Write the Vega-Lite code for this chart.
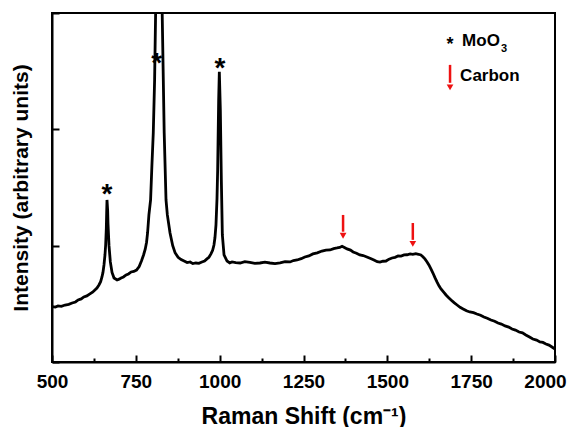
{
  "$schema": "https://vega.github.io/schema/vega-lite/v6.json",
  "autosize": "none",
  "width": 503,
  "height": 349,
  "padding": {"left": 52, "top": 13, "right": 15, "bottom": 65},
  "background": "white",
  "config": {
    "view": {"stroke": "black", "strokeWidth": 2},
    "font": "Liberation Sans"
  },
  "datasets": {
    "spectrum": [
      {"shift": 500, "intensity": 0.477}, {"shift": 510, "intensity": 0.472}, {"shift": 518, "intensity": 0.482}, {"shift": 528, "intensity": 0.479}, {"shift": 539, "intensity": 0.49},
      {"shift": 550, "intensity": 0.495}, {"shift": 560, "intensity": 0.507}, {"shift": 570, "intensity": 0.516}, {"shift": 578, "intensity": 0.533}, {"shift": 587, "intensity": 0.542}, {"shift": 595, "intensity": 0.559},
      {"shift": 604, "intensity": 0.568}, {"shift": 613, "intensity": 0.585}, {"shift": 621, "intensity": 0.6}, {"shift": 628, "intensity": 0.619}, {"shift": 634, "intensity": 0.636}, {"shift": 640, "intensity": 0.662},
      {"shift": 645, "intensity": 0.69}, {"shift": 649, "intensity": 0.731}, {"shift": 652, "intensity": 0.77}, {"shift": 655, "intensity": 0.834}, {"shift": 658, "intensity": 0.92}, {"shift": 660, "intensity": 1.006},
      {"shift": 662, "intensity": 1.15}, {"shift": 663, "intensity": 1.28}, {"shift": 664, "intensity": 1.393}, {"shift": 666, "intensity": 1.3}, {"shift": 667, "intensity": 1.19},
      {"shift": 670, "intensity": 1.0}, {"shift": 674, "intensity": 0.86}, {"shift": 679, "intensity": 0.77},
      {"shift": 685, "intensity": 0.722}, {"shift": 694, "intensity": 0.705}, {"shift": 700, "intensity": 0.712}, {"shift": 706, "intensity": 0.722}, {"shift": 713, "intensity": 0.731},
      {"shift": 721, "intensity": 0.748}, {"shift": 728, "intensity": 0.757}, {"shift": 736, "intensity": 0.774}, {"shift": 744, "intensity": 0.778}, {"shift": 752, "intensity": 0.79},
      {"shift": 760, "intensity": 0.82}, {"shift": 767, "intensity": 0.87}, {"shift": 773, "intensity": 0.92}, {"shift": 778, "intensity": 0.97}, {"shift": 782, "intensity": 1.03},
      {"shift": 785, "intensity": 1.109}, {"shift": 789, "intensity": 1.264}, {"shift": 794, "intensity": 1.393},
      {"shift": 798, "intensity": 1.694}, {"shift": 802, "intensity": 1.969}, {"shift": 806, "intensity": 2.425}, {"shift": 809, "intensity": 3.0},
      {"shift": 819, "intensity": 4.6},
      {"shift": 828.6, "intensity": 3.0}, {"shift": 834.6, "intensity": 1.969}, {"shift": 840, "intensity": 1.393}, {"shift": 844, "intensity": 1.264},
      {"shift": 852, "intensity": 1.109}, {"shift": 860, "intensity": 1.0}, {"shift": 867, "intensity": 0.94}, {"shift": 876, "intensity": 0.9},
      {"shift": 885, "intensity": 0.88}, {"shift": 894, "intensity": 0.868}, {"shift": 903, "intensity": 0.855}, {"shift": 912, "intensity": 0.86}, {"shift": 920, "intensity": 0.846},
      {"shift": 929, "intensity": 0.851}, {"shift": 938, "intensity": 0.848}, {"shift": 947, "intensity": 0.86}, {"shift": 955, "intensity": 0.868}, {"shift": 962, "intensity": 0.886},
      {"shift": 968, "intensity": 0.9}, {"shift": 974, "intensity": 0.929}, {"shift": 979, "intensity": 0.96}, {"shift": 983, "intensity": 1.006}, {"shift": 986, "intensity": 1.07}, {"shift": 989, "intensity": 1.178},
      {"shift": 992, "intensity": 1.4}, {"shift": 994, "intensity": 1.651}, {"shift": 997, "intensity": 2.253}, {"shift": 999, "intensity": 2.494},
      {"shift": 1002, "intensity": 2.167}, {"shift": 1005, "intensity": 1.565}, {"shift": 1008, "intensity": 1.092},
      {"shift": 1013, "intensity": 0.92}, {"shift": 1022, "intensity": 0.868}, {"shift": 1030, "intensity": 0.852}, {"shift": 1037, "intensity": 0.86}, {"shift": 1048, "intensity": 0.855},
      {"shift": 1061, "intensity": 0.851}, {"shift": 1075, "intensity": 0.862}, {"shift": 1090, "intensity": 0.856}, {"shift": 1105, "intensity": 0.848}, {"shift": 1120, "intensity": 0.851},
      {"shift": 1135, "intensity": 0.858}, {"shift": 1150, "intensity": 0.851}, {"shift": 1165, "intensity": 0.846}, {"shift": 1180, "intensity": 0.853}, {"shift": 1195, "intensity": 0.862}, {"shift": 1210, "intensity": 0.86},
      {"shift": 1220, "intensity": 0.872}, {"shift": 1231, "intensity": 0.877}, {"shift": 1243, "intensity": 0.888}, {"shift": 1254, "intensity": 0.903}, {"shift": 1266, "intensity": 0.912}, {"shift": 1278, "intensity": 0.929},
      {"shift": 1291, "intensity": 0.938}, {"shift": 1305, "intensity": 0.954}, {"shift": 1317, "intensity": 0.962}, {"shift": 1329, "intensity": 0.963}, {"shift": 1340, "intensity": 0.975}, {"shift": 1350, "intensity": 0.98},
      {"shift": 1358, "intensity": 0.985}, {"shift": 1365, "intensity": 0.995}, {"shift": 1372, "intensity": 0.985}, {"shift": 1380, "intensity": 0.972}, {"shift": 1390, "intensity": 0.962}, {"shift": 1398, "intensity": 0.946},
      {"shift": 1408, "intensity": 0.935}, {"shift": 1418, "intensity": 0.92}, {"shift": 1428, "intensity": 0.915}, {"shift": 1439, "intensity": 0.903}, {"shift": 1450, "intensity": 0.89}, {"shift": 1460, "intensity": 0.877},
      {"shift": 1470, "intensity": 0.862}, {"shift": 1478, "intensity": 0.858}, {"shift": 1487, "intensity": 0.866}, {"shift": 1496, "intensity": 0.868}, {"shift": 1505, "intensity": 0.884}, {"shift": 1514, "intensity": 0.894},
      {"shift": 1523, "intensity": 0.9}, {"shift": 1532, "intensity": 0.911}, {"shift": 1541, "intensity": 0.91}, {"shift": 1550, "intensity": 0.92}, {"shift": 1559, "intensity": 0.922}, {"shift": 1568, "intensity": 0.929},
      {"shift": 1576, "intensity": 0.925}, {"shift": 1585, "intensity": 0.932}, {"shift": 1593, "intensity": 0.926}, {"shift": 1600, "intensity": 0.92}, {"shift": 1606, "intensity": 0.905}, {"shift": 1612, "intensity": 0.886},
      {"shift": 1618, "intensity": 0.862}, {"shift": 1624, "intensity": 0.834}, {"shift": 1630, "intensity": 0.8}, {"shift": 1636, "intensity": 0.765}, {"shift": 1642, "intensity": 0.725}, {"shift": 1648, "intensity": 0.688},
      {"shift": 1654, "intensity": 0.655}, {"shift": 1660, "intensity": 0.628}, {"shift": 1668, "intensity": 0.6}, {"shift": 1675, "intensity": 0.576}, {"shift": 1683, "intensity": 0.552}, {"shift": 1690, "intensity": 0.533},
      {"shift": 1699, "intensity": 0.51}, {"shift": 1708, "intensity": 0.49}, {"shift": 1717, "intensity": 0.47}, {"shift": 1726, "intensity": 0.456}, {"shift": 1736, "intensity": 0.44}, {"shift": 1746, "intensity": 0.43},
      {"shift": 1757, "intensity": 0.424}, {"shift": 1767, "intensity": 0.413}, {"shift": 1778, "intensity": 0.402}, {"shift": 1788, "intensity": 0.387}, {"shift": 1798, "intensity": 0.376}, {"shift": 1809, "intensity": 0.361},
      {"shift": 1820, "intensity": 0.35}, {"shift": 1830, "intensity": 0.335}, {"shift": 1840, "intensity": 0.326}, {"shift": 1851, "intensity": 0.31}, {"shift": 1862, "intensity": 0.3}, {"shift": 1872, "intensity": 0.284},
      {"shift": 1882, "intensity": 0.274}, {"shift": 1893, "intensity": 0.258}, {"shift": 1903, "intensity": 0.25}, {"shift": 1913, "intensity": 0.232}, {"shift": 1924, "intensity": 0.215}, {"shift": 1934, "intensity": 0.198},
      {"shift": 1945, "intensity": 0.188}, {"shift": 1955, "intensity": 0.172}, {"shift": 1964, "intensity": 0.168}, {"shift": 1973, "intensity": 0.155}, {"shift": 1982, "intensity": 0.145}, {"shift": 1991, "intensity": 0.129},
      {"shift": 2000, "intensity": 0.112}
    ],
    "stars": [
      {"shift": 664, "intensity": 1.5, "kind": "peak", "label": "*"},
      {"shift": 812, "intensity": 2.62, "kind": "peak", "label": "*"},
      {"shift": 1001, "intensity": 2.58, "kind": "peak", "label": "*"},
      {"shift": 1687, "intensity": 2.77, "kind": "legend", "label": "*"}
    ],
    "arrows": [
      {"shift": 1368, "top": 1.264, "bottom": 1.12, "head": 1.085},
      {"shift": 1576, "top": 1.195, "bottom": 1.05, "head": 1.015},
      {"shift": 1687, "top": 2.554, "bottom": 2.4, "head": 2.36}
    ],
    "labels": [
      {"shift": 1723, "intensity": 2.76, "label": "MoO"},
      {"shift": 1717, "intensity": 2.46, "label": "Carbon"}
    ],
    "subs": [
      {"shift": 1839, "intensity": 2.69, "label": "3"}
    ]
  },
  "layer": [
    {
      "data": {"name": "spectrum"},
      "mark": {"type": "line", "color": "black", "strokeWidth": 2.8, "clip": true},
      "encoding": {
        "x": {
          "field": "shift", "type": "quantitative",
          "scale": {"domain": [500, 2000], "nice": false, "zero": false},
          "axis": {
            "values": [500, 625, 750, 875, 1000, 1125, 1250, 1375, 1500, 1625, 1750, 1875, 2000],
            "labelExpr": "datum.value % 250 === 0 ? format(datum.value, 'd') : ''",
            "title": "Raman Shift (cm⁻¹)",
            "titleFont": "Liberation Sans", "titleFontSize": 23, "titleFontWeight": "bold", "titleColor": "black",
            "titlePadding": 14,
            "labelFont": "Liberation Sans", "labelFontSize": 19, "labelFontWeight": "bold", "labelColor": "black",
            "labelPadding": 17, "labelFlush": false,
            "labelOffset": {"condition": {"test": "datum.value === 2000", "value": -10}, "value": 0},
            "tickSize": {"condition": {"test": "datum.value % 250 === 0", "value": -7}, "value": -4},
            "tickWidth": 2, "tickColor": "black",
            "domainColor": "black", "domainWidth": 2, "grid": false
          }
        },
        "y": {
          "field": "intensity", "type": "quantitative",
          "scale": {"domain": [0, 3], "nice": false},
          "axis": {
            "values": [0, 1, 2, 3],
            "labels": false,
            "title": "Intensity (arbitrary units)",
            "titleFont": "Liberation Sans", "titleFontSize": 21, "titleFontWeight": "bold", "titleColor": "black",
            "titlePadding": 20,
            "tickSize": -7, "tickWidth": 2, "tickColor": "black",
            "domainColor": "black", "domainWidth": 2, "grid": false
          }
        }
      }
    },
    {
      "data": {"name": "stars"},
      "transform": [{"filter": "datum.kind === 'peak'"}],
      "mark": {"type": "text", "font": "Liberation Sans", "fontWeight": "bold", "fontSize": 28, "baseline": "middle", "align": "center", "dy": 7, "color": "black"},
      "encoding": {
        "x": {"field": "shift", "type": "quantitative"},
        "y": {"field": "intensity", "type": "quantitative"},
        "text": {"field": "label"}
      }
    },
    {
      "data": {"name": "stars"},
      "transform": [{"filter": "datum.kind === 'legend'"}],
      "mark": {"type": "text", "font": "Liberation Sans", "fontWeight": "bold", "fontSize": 18, "baseline": "middle", "align": "center", "dy": 5, "color": "black"},
      "encoding": {
        "x": {"field": "shift", "type": "quantitative"},
        "y": {"field": "intensity", "type": "quantitative"},
        "text": {"field": "label"}
      }
    },
    {
      "data": {"name": "arrows"},
      "mark": {"type": "rule", "color": "#ee1111", "strokeWidth": 2.5},
      "encoding": {
        "x": {"field": "shift", "type": "quantitative"},
        "y": {"field": "top", "type": "quantitative"},
        "y2": {"field": "bottom"}
      }
    },
    {
      "data": {"name": "arrows"},
      "mark": {"type": "point", "shape": "triangle-down", "filled": true, "color": "#ee1111", "size": 45, "opacity": 1},
      "encoding": {
        "x": {"field": "shift", "type": "quantitative"},
        "y": {"field": "head", "type": "quantitative"}
      }
    },
    {
      "data": {"name": "labels"},
      "mark": {"type": "text", "font": "Liberation Sans", "fontWeight": "bold", "fontSize": 17, "baseline": "middle", "align": "left", "color": "black"},
      "encoding": {
        "x": {"field": "shift", "type": "quantitative"},
        "y": {"field": "intensity", "type": "quantitative"},
        "text": {"field": "label"}
      }
    },
    {
      "data": {"name": "subs"},
      "mark": {"type": "text", "font": "Liberation Sans", "fontWeight": "bold", "fontSize": 11, "baseline": "middle", "align": "left", "color": "black"},
      "encoding": {
        "x": {"field": "shift", "type": "quantitative"},
        "y": {"field": "intensity", "type": "quantitative"},
        "text": {"field": "label"}
      }
    }
  ]
}
